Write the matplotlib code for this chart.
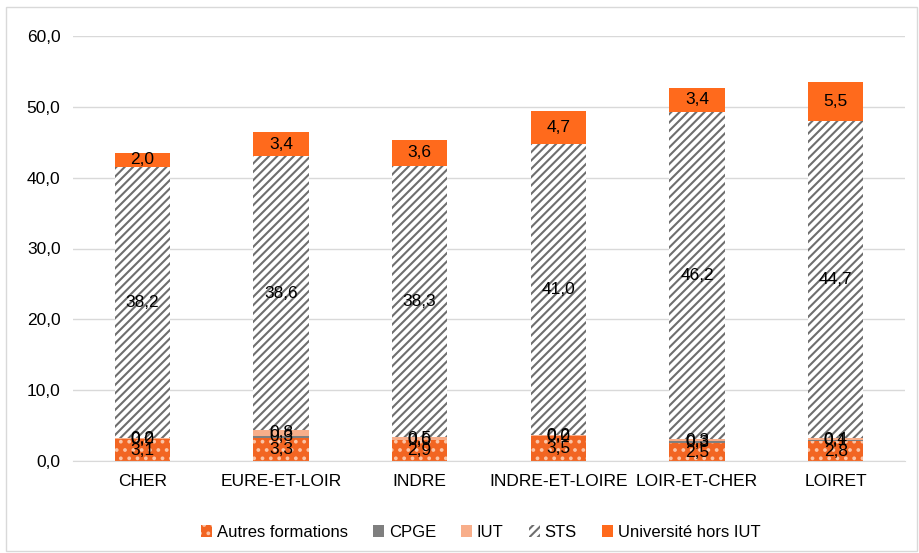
import numpy as np
import matplotlib.pyplot as plt

plt.rcParams['font.family'] = ['Liberation Sans', 'DejaVu Sans']
plt.rcParams['hatch.linewidth'] = 1.5

departements = ['CHER', 'EURE-ET-LOIR', 'INDRE', 'INDRE-ET-LOIRE', 'LOIR-ET-CHER', 'LOIRET']
autres = [3.1, 3.3, 2.9, 3.5, 2.5, 2.8]
cpge = [0.0, 0.3, 0.0, 0.0, 0.3, 0.1]
iut = [0.2, 0.8, 0.5, 0.2, 0.3, 0.4]
sts = [38.2, 38.6, 38.3, 41.0, 46.2, 44.7]
univ = [2.0, 3.4, 3.6, 4.7, 3.4, 5.5]

series = [
    ('Autres formations', autres, dict(color='#F26522', edgecolor='#FBC4A6', hatch='..')),
    ('CPGE', cpge, dict(color='#7F7F7F')),
    ('IUT', iut, dict(color='#F8AE8A')),
    ('STS', sts, dict(color='white', edgecolor='#6E6E6E', hatch='////')),
    ('Université hors IUT', univ, dict(color='#FF6A1C')),
]


def fmt(v):
    return ('%.1f' % v).replace('.', ',')


fig = plt.figure(figsize=(9.19, 5.53), dpi=100)
ax = fig.add_axes([73 / 919, 92 / 553, 832 / 919, 425 / 553])

x = np.arange(len(departements))
bottom = np.zeros(len(departements))
for name, vals, style in series:
    vals = np.array(vals)
    bars = ax.bar(x, vals, 0.4, bottom=bottom, label=name, linewidth=0, **style)
    for xi, b, v in zip(x, bottom, vals):
        ax.text(xi, b + v / 2, fmt(v), ha='center', va='center', fontsize=12.5, color='black')
    bottom += vals

ax.set_xlim(-0.5, len(departements) - 0.5)
ax.set_ylim(0, 60)
ax.set_yticks(np.arange(0, 61, 10))
ax.set_yticklabels([fmt(t) for t in np.arange(0, 61, 10)], fontsize=12.5)
ax.set_xticks(x)
ax.set_xticklabels(departements, fontsize=12.5)
ax.tick_params(length=0, pad=9)
ax.yaxis.grid(True, color='#D9D9D9', linewidth=1)
ax.set_axisbelow(True)
for s in ['top', 'right', 'left']:
    ax.spines[s].set_visible(False)
ax.spines['bottom'].set_color('#D9D9D9')

ax.legend(loc='upper center', bbox_to_anchor=(0.49, -0.115), ncol=5, frameon=False,
          fontsize=12, handlelength=0.65, handleheight=0.65, handletextpad=0.3, columnspacing=1.5)

fig.patches.append(plt.Rectangle((6 / 919, 2 / 553), 911 / 919, 544 / 553, transform=fig.transFigure,
                                 fill=False, edgecolor='#D9D9D9', linewidth=1))

fig.savefig('out.png', dpi=100)
